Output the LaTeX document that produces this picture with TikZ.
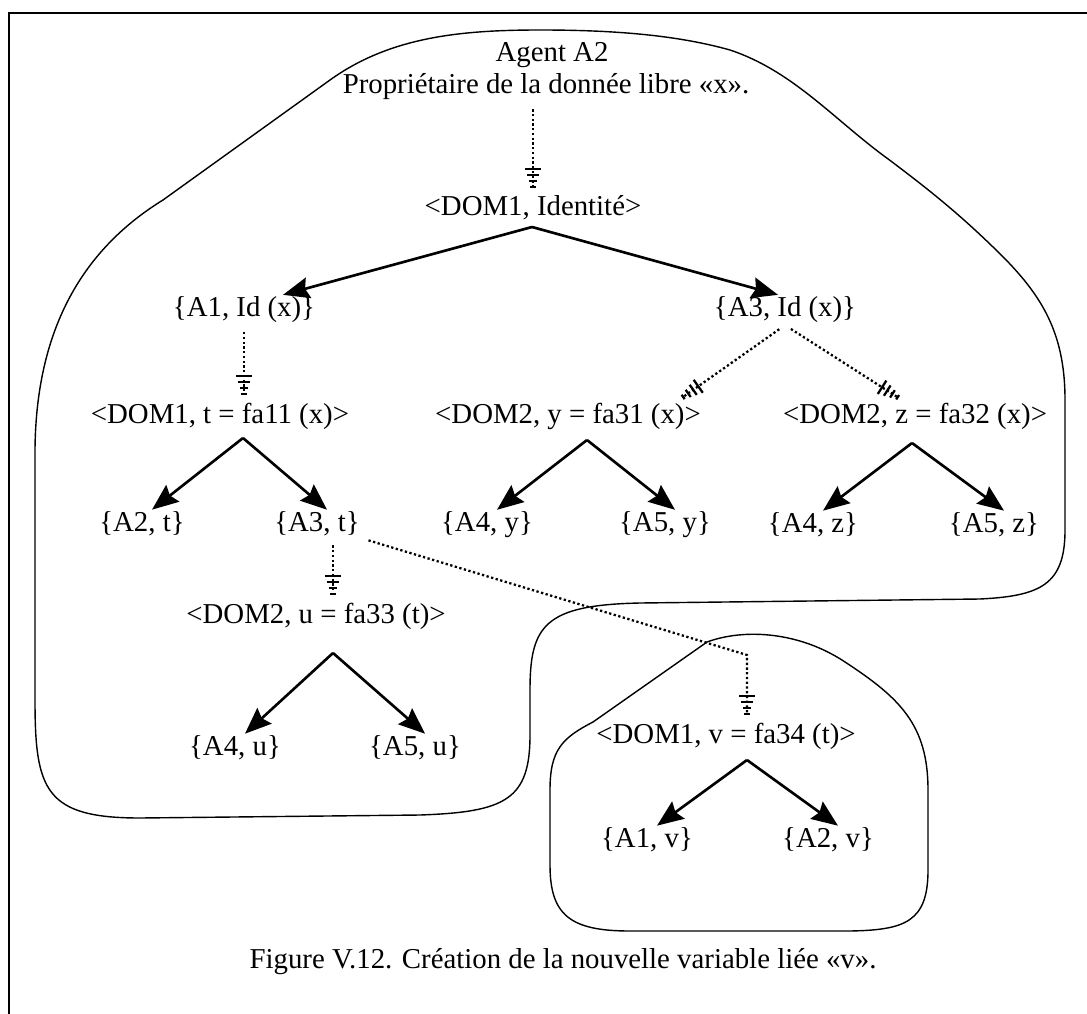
\documentclass[tikz,border=0pt]{standalone}
\usepackage{fontspec}
\setmainfont{Liberation Serif}
\usepackage{tikz}
\usetikzlibrary{calc}
\usetikzlibrary{arrows.meta}

\begin{document}
\begin{tikzpicture}[x = 0.02cm, y = -0.02cm, every node/.style = {inner sep = 1pt, font = \fontsize{16.4}{19.7}\selectfont}]

\tikzstyle{edge_t}=[-{Stealth[length = 15pt, width = 12pt, inset = 2pt]}, line width = 1.5pt]
\tikzstyle{edge_d}=[-{Bar[width = 9pt, sep = 2.2pt] Bar[width = 7pt, sep = 2.2pt] Bar[width = 5pt, sep = 2.2pt] Bar[width = 3pt]}, line width = 1.3pt, dash pattern = on 1.3pt off 1.4pt, shorten <= 4pt, shorten >= 3pt]
\tikzstyle{blob}=[line width = 0.8pt]
\tikzstyle{frame}=[line width = 1.7pt]

\useasboundingbox (0, 0) rectangle (1087, 1013);

\coordinate (H) at (548, 55);
\coordinate (R) at (532, 227);
\coordinate (T) at (243, 438);
\coordinate (Y) at (587, 440);
\coordinate (Z) at (912, 443);
\coordinate (U) at (333, 653);
\coordinate (V) at (747, 760);
\coordinate (K) at (747, 655);
\coordinate (F) at (563, 962);

\path
($(H) + (4, 0)$) node(agent) {Agent A2}
($(H) + (-2, 32)$) node(prop) {Propriétaire de la donnée libre «x».}
($(R) + (1, -19)$) node(dom1id) {<DOM1, Identité>}
($(R) + (-288, 83)$) node(a1id) {\{A1, Id (x)\}}
($(R) + (253, 83)$) node(a3id) {\{A3, Id (x)\}}
($(T) + (-23, -22)$) node(dom1t) {<DOM1, t = fa11 (x)>}
($(T) + (-101, 86)$) node(a2t) {\{A2, t\}}
($(T) + (74, 86)$) node(a3t) {\{A3, t\}}
($(Y) + (-19, -24)$) node(dom2y) {<DOM2, y = fa31 (x)>}
($(Y) + (-100, 85)$) node(a4y) {\{A4, y\}}
($(Y) + (78, 85)$) node(a5y) {\{A5, y\}}
($(Z) + (3, -27)$) node(dom2z) {<DOM2, z = fa32 (x)>}
($(Z) + (-99, 82)$) node(a4z) {\{A4, z\}}
($(Z) + (82, 82)$) node(a5z) {\{A5, z\}}
($(U) + (-17, -37)$) node(dom2u) {<DOM2, u = fa33 (t)>}
($(U) + (-98, 95)$) node(a4u) {\{A4, u\}}
($(U) + (82, 95)$) node(a5u) {\{A5, u\}}
($(V) + (-21, -24)$) node(dom1v) {<DOM1, v = fa34 (t)>}
($(V) + (-100, 80)$) node(a1v) {\{A1, v\}}
($(V) + (81, 80)$) node(a2v) {\{A2, v\}}
(F) node(caption) {Figure V.12. Création de la nouvelle variable liée «v».};

%frame and agent zones
\draw[frame] (1100, 13) -- (9, 13) -- (9, 1030);
\draw[blob] (163, 200) -- (330, 80) .. controls (390, 37) and (460, 30) .. (540, 30)
  .. controls (620, 30) and (680, 36) .. (730, 50)
  .. controls (790, 70) and (830, 115) .. (880, 153)
  .. controls (930, 190) and (960, 215) .. (993, 247)
  .. controls (1040, 292) and (1065, 330) .. (1065, 400)
  -- (1065, 530)
  .. controls (1065, 585) and (1040, 596) .. (980, 599)
  -- (640, 603)
  .. controls (545, 605) and (530, 625) .. (530, 690)
  -- (530, 735)
  .. controls (530, 800) and (505, 812) .. (420, 815)
  -- (140, 818)
  .. controls (45, 818) and (35, 790) .. (35, 700)
  -- (35, 450)
  .. controls (36, 320) and (90, 245) .. (163, 200);
\draw[blob] (707, 642) .. controls (745, 628) and (800, 632) .. (845, 662)
  .. controls (900, 698) and (928, 725) .. (928, 790)
  -- (928, 870)
  .. controls (928, 922) and (905, 930) .. (850, 931)
  -- (630, 931)
  .. controls (570, 931) and (550, 915) .. (550, 865)
  -- (550, 790)
  .. controls (550, 750) and (562, 738) .. (593, 722)
  -- cycle;

%dotted arrows
\draw[edge_d] (dom1id.north |- prop.south) -- (dom1id.north);
\draw[edge_d] (a1id.south) -- (a1id.south |- dom1t.north);
\draw[edge_d] (a3id.south) -- ($(dom2y.north east) + (-25, 0)$);
\draw[edge_d] (a3id.south) -- ($(dom2z.north) + (-12, 0)$);
\draw[edge_d] (a3t.south -| U) -- (dom2u.north -| U);
\draw[edge_d] (a3t.south east) -- (K) -- (dom1v.north -| K);

%straight arrows
\draw[edge_t] (R) -- ($(a1id.north) + (39, 0)$);
\draw[edge_t] (R) -- ($(a3id.north) + (-7, 0)$);
\draw[edge_t] (T) -- ($(a2t.north) + (10, 0)$);
\draw[edge_t] (T) -- ($(a3t.north) + (10, 0)$);
\draw[edge_t] (Y) -- ($(a4y.north) + (10, 0)$);
\draw[edge_t] (Y) -- ($(a5y.north) + (10, 0)$);
\draw[edge_t] (Z) -- ($(a4z.north) + (10, 0)$);
\draw[edge_t] (Z) -- ($(a5z.north) + (10, 0)$);
\draw[edge_t] (U) -- ($(a4u.north) + (10, 0)$);
\draw[edge_t] (U) -- ($(a5u.north) + (10, 0)$);
\draw[edge_t] (V) -- ($(a1v.north) + (10, 0)$);
\draw[edge_t] (V) -- ($(a2v.north) + (10, 0)$);

\end{tikzpicture}
\end{document}
